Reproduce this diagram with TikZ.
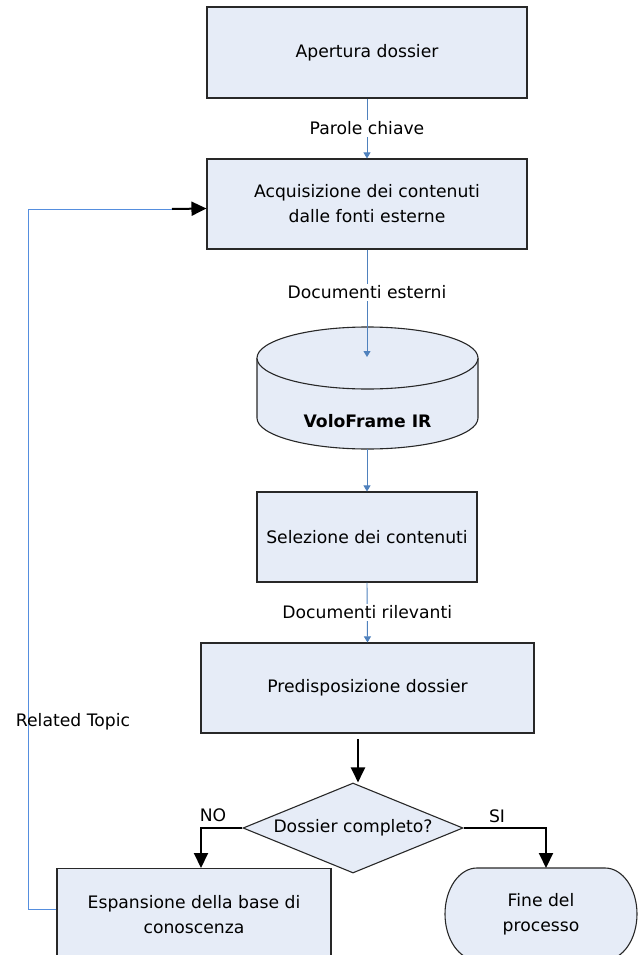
\documentclass[tikz,border=0pt]{standalone}
\usepackage{fontspec}
\setmainfont{DejaVu Sans}
\usetikzlibrary{shapes.geometric,arrows.meta,calc}
\definecolor{boxfill}{RGB}{230,236,247}
\definecolor{lineblue}{RGB}{79,129,189}
\definecolor{fbblue}{RGB}{85,142,222}
\definecolor{edge}{RGB}{40,40,40}
\tikzset{
  procbox/.style={draw=edge, line width=1.1pt, fill=boxfill, align=center, inner sep=0pt, font=\fontsize{17.2}{25}\selectfont},
  bluearrow/.style={draw=lineblue, line width=0.9pt, -{Triangle[length=6pt,width=7pt]}},
  blackarrow/.style={draw=black, line width=2pt, -{Triangle[length=15pt,width=14pt]}},
  lbl/.style={fill=white, inner sep=2pt, font=\fontsize{17.2}{20}\selectfont},
  freelbl/.style={inner sep=0pt, font=\fontsize{17.2}{20}\selectfont}
}
\begin{document}
\begin{tikzpicture}[x=1pt,y=-1pt]
\useasboundingbox (0,0) rectangle (639,955);
\clip (0,0) rectangle (639,955);
% boxes
\node[procbox, minimum width=320pt, minimum height=91pt] (b1) at (367,52.5) {Apertura dossier};
\node[procbox, minimum width=320pt, minimum height=90pt] (b2) at (367,204) {Acquisizione dei contenuti\\dalle fonti esterne};
% cylinder
\fill[boxfill] (257,358) rectangle (478,418);
\filldraw[fill=boxfill, draw=edge, line width=1.1pt] (257,358) -- (257,418) arc[start angle=180, end angle=0, x radius=110.5, y radius=31] -- (478,358);
\filldraw[fill=boxfill, draw=edge, line width=1.1pt] (367.5,358) ellipse [x radius=110.5, y radius=31];
\node[font=\bfseries\fontsize{17.2}{20}\selectfont] (db) at (367.5,421) {VoloFrame IR};
\coordinate (dbtop) at (367,357);
\coordinate (dbbot) at (367,449);
\node[procbox, minimum width=220pt, minimum height=90pt] (b3) at (367,537) {Selezione dei contenuti};
\node[procbox, minimum width=333pt, minimum height=90pt] (b4) at (367.5,688) {Predisposizione dossier};
\node[procbox, shape=diamond, aspect=2.444, minimum width=220pt, minimum height=90pt, inner sep=0pt] (dia) at (353,828) {Dossier completo?};
\node[procbox, minimum width=274pt, minimum height=92pt, anchor=north] (b5) at (194,868) {Espansione della base di\\conoscenza};
% terminal
\filldraw[fill=boxfill, draw=edge, line width=1.1pt] (477,868) -- (605,868) arc[start angle=-90, end angle=90, x radius=32, y radius=46] -- (477,960) arc[start angle=90, end angle=270, x radius=32, y radius=46] -- cycle;
\node[align=center, inner sep=0pt, font=\fontsize{17.2}{25}\selectfont, minimum width=192pt, minimum height=92pt, anchor=north] (fine) at (541,868) {Fine del\\processo};
% blue connectors
\draw[bluearrow] (b1.south) -- node[lbl] {Parole chiave} (b2.north);
\draw[bluearrow] (b2.south) -- node[lbl, pos=0.4] {Documenti esterni} (dbtop);
\draw[bluearrow] (dbbot) -- (b3.north);
\draw[bluearrow] (b3.south) -- node[lbl] {Documenti rilevanti} (b4.north);
% black connectors
\coordinate (s4) at (358,739);
\draw[blackarrow] (s4) -- (s4 |- dia.north);
\draw[blackarrow] (dia.west) -| ([xshift=7pt]b5.north);
\draw[blackarrow] (dia.east) -| ([xshift=5pt]fine.north);
\node[freelbl] (nolbl) at (213,815) {NO};
\node[freelbl] (silbl) at (497,816) {SI};
% feedback loop
\coordinate (fbA) at (28,909);
\coordinate (fbB) at (28,209);
\coordinate (fbC) at (172,209);
\draw[fbblue, line width=0.9pt] ([yshift=-41pt]b5.north west) -- (fbA) -- (fbB) -- (fbC);
\draw[blackarrow] (fbC) -- ([yshift=-4.5pt]b2.west);
\node[freelbl] (rt) at (73,722) {Related Topic};
\end{tikzpicture}
\end{document}
